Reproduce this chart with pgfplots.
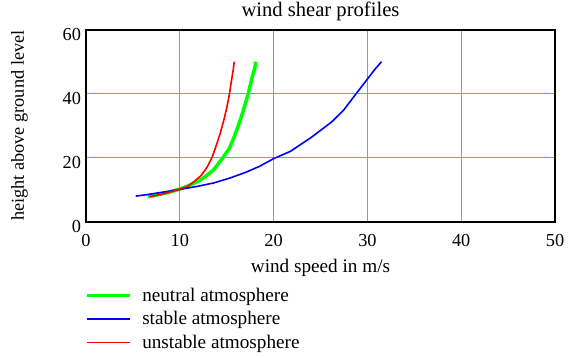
\documentclass[border=0pt]{standalone}
\usepackage{fontspec}
\setmainfont{Liberation Serif}
\setsansfont{Liberation Serif}
\usepackage{pgfplots}
\usepackage{pgfplotstable}
\pgfplotsset{compat=1.18}
\definecolor{pgreen}{RGB}{0,255,0}
\definecolor{pblue}{RGB}{0,0,255}
\definecolor{pred}{RGB}{255,0,0}
\definecolor{gridgreen}{RGB}{20,245,20}

\pgfplotstableread{
x y
6.6 7.8
7.6 8.4
8.7 9.1
9.9 10.1
10.9 11.2
11.8 12.4
12.7 14.0
13.6 16.2
14.6 20.0
15.3 23.0
15.8 26.5
16.3 30.5
16.8 35.0
17.3 40.0
17.7 45.0
18.0 48.0
18.1 50.0
}\neutral

\pgfplotstableread{
x y
5.3 8.0
6.6 8.5
7.9 9.1
9.0 9.6
10.0 10.1
11.8 11.0
13.6 12.1
15.4 13.7
17.0 15.4
18.5 17.3
20.0 19.7
21.8 22.0
24.0 26.3
26.2 31.2
27.5 35.0
28.8 40.0
29.9 44.2
30.8 47.6
31.5 50.0
}\stable

\pgfplotstableread{
x y
6.8 7.8
8.0 8.5
9.0 9.3
9.9 10.1
10.8 11.0
11.5 12.5
12.3 14.5
12.9 17.0
13.5 20.5
13.9 24.0
14.3 27.5
14.7 31.8
15.0 35.5
15.3 40.0
15.5 44.0
15.7 47.5
15.8 50.0
}\unstable

\begin{document}
\begin{tikzpicture}[font=\fontsize{19}{23}\selectfont]
\begin{axis}[
  at={(0pt,0pt)}, anchor=south west,
  scale only axis, width=469pt, height=192pt,
  xmin=0, xmax=50, ymin=0, ymax=60,
  xtick={0,10,20,30,40,50}, ytick={0,20,40,60},
  xmajorgrids=true, ymajorgrids=true,
  major grid style={draw=gridgreen, line width=1pt},
  major tick length=0pt,
  tick style={draw=none},
  axis line style={draw=black, line width=1.8pt},
  tick label style={font=\fontsize{18.3}{22}\selectfont},
  xticklabel={\pgfmathprintnumber[assume math mode=true]{\tick}},
  yticklabel={\pgfmathprintnumber[assume math mode=true]{\tick}},
  xticklabel style={anchor=base, yshift=-25pt},
  yticklabel style={anchor=east, xshift=-1.5pt, yshift=-4.5pt},
  title={wind shear profiles},
  title style={at={(axis description cs:0.5,1)}, anchor=base, yshift=7pt, font=\fontsize{20.6}{24}\selectfont},
  xlabel={wind speed in m/s},
  xlabel style={at={(axis description cs:0.5,0)}, anchor=base, yshift=-51.3pt, font=\fontsize{19.2}{23}\selectfont},
  ylabel={height above ground level},
  ylabel style={at={(axis description cs:-0.1322,0.5)}, anchor=base, font=\fontsize{18.3}{22}\selectfont},
  legend image code/.code={\draw[#1] (0pt,0pt) -- (43pt,0pt);},
  legend cell align=left,
  legend style={at={(axis description cs:-0.002,-0.345)}, anchor=north west,
    draw=none, fill=none, inner sep=0pt, row sep=8.6pt,
    nodes={inner sep=0pt, font=\fontsize{19.2}{23}\selectfont},
    /tikz/every odd column/.append style={column sep=10.5pt}},
  no markers,
]
\addplot[color=pgreen, line width=3.5pt] table[x=x,y=y] {\neutral};
\addlegendentry{neutral atmosphere}
\addplot[color=pblue, line width=1.6pt] table[x=x,y=y] {\stable};
\addlegendentry{stable atmosphere}
\addplot[color=pred, line width=1.6pt] table[x=x,y=y] {\unstable};
\addlegendentry{unstable atmosphere}
\end{axis}
\pgfresetboundingbox
\path (-86pt,-136.3pt) rectangle (489pt,221.7pt);
\end{tikzpicture}
\end{document}
